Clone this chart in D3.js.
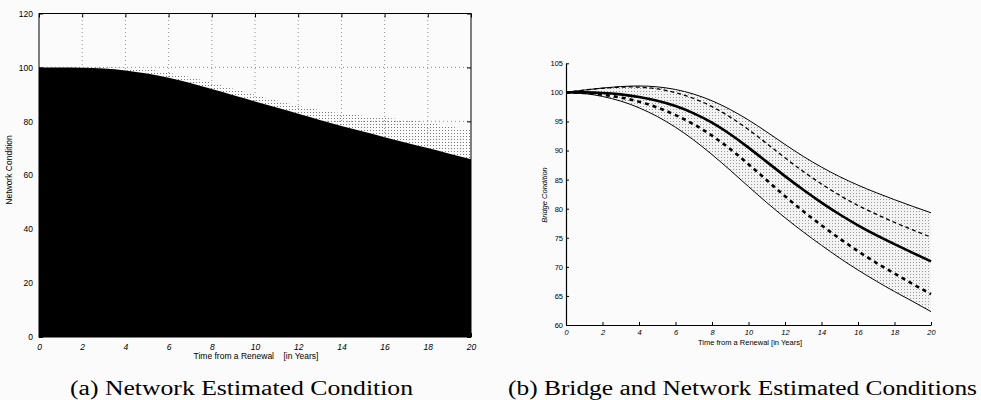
<!DOCTYPE html>
<html>
<head>
<meta charset="utf-8">
<script src="https://cdn.jsdelivr.net/npm/d3@7"></script>
<style>
  body { margin: 0; background: #fbfbfb; }
  svg { display: block; }
  .tick text { font-family: "Liberation Sans", Arial, sans-serif; fill: #000; }
</style>
</head>
<body>
<svg id="chart" width="981" height="400"></svg>
<script>
// years since renewal
const years = [0, 1, 2, 3, 4, 5, 6, 7, 8, 9, 10, 11, 12, 13, 14, 15, 16, 17, 18, 19, 20];

// (a) network condition: black area top and dotted band top
const networkCond  = [100, 100, 99.9, 99.6, 98.9, 97.7, 96.2, 94.2, 92.0, 89.7, 87.4, 85.1, 82.8, 80.5, 78.3, 76.2, 74.1, 72.1, 70.1, 68.0, 65.9];
const networkUpper = [100, 100, 100, 100, 99.9, 99.3, 98.1, 96.4, 94.3, 92.1, 89.9, 87.7, 85.8, 84.2, 83.0, 82.1, 81.3, 80.5, 79.5, 78.2, 76.6];

// (b) bridge condition curves
const bridgeUpper     = [100, 100.4, 100.75, 101.0, 101.1, 100.95, 100.5, 99.7, 98.55, 97.05, 95.25, 93.2, 91.05, 89.0, 87.15, 85.5, 84.05, 82.75, 81.55, 80.4, 79.3];
const bridgeUpperDash = [100, 100.4, 100.7, 100.9, 100.9, 100.6, 99.95, 98.95, 97.55, 95.75, 93.6, 91.2, 88.75, 86.4, 84.25, 82.3, 80.55, 79.05, 77.65, 76.35, 75.1];
const bridgeMean      = [100, 100, 99.9, 99.65, 99.2, 98.55, 97.65, 96.4, 94.8, 92.8, 90.5, 88.05, 85.6, 83.25, 81.05, 79.0, 77.15, 75.45, 73.9, 72.4, 70.95];
const bridgeLowerDash = [100, 99.9, 99.6, 99.1, 98.4, 97.4, 96.1, 94.5, 92.55, 90.25, 87.65, 84.9, 82.15, 79.55, 77.15, 74.85, 72.7, 70.7, 68.85, 67.05, 65.3];
const bridgeLower     = [100, 99.8, 99.3, 98.5, 97.35, 95.85, 94.0, 91.8, 89.3, 86.6, 83.8, 81.05, 78.45, 76.0, 73.7, 71.5, 69.45, 67.55, 65.75, 64.05, 62.3];

// tick labels
const xTicks = [0, 2, 4, 6, 8, 10, 12, 14, 16, 18, 20];
const netTicks = [0, 20, 40, 60, 80, 100, 120];
const bridgeTicks = [60, 65, 70, 75, 80, 85, 90, 95, 100, 105];

const sans = '"Liberation Sans", Arial, sans-serif';
const serif = '"Liberation Serif", "DejaVu Serif", serif';

const svg = d3.select('#chart');
const defs = svg.append('defs');

// dot textures
const dotsA = defs.append('pattern').attr('id', 'dotsA')
  .attr('patternUnits', 'userSpaceOnUse').attr('width', 3).attr('height', 3);
dotsA.append('rect').attr('x', 1).attr('y', 1).attr('width', 1).attr('height', 1).attr('fill', '#7a7a7a');

const dotsB = defs.append('pattern').attr('id', 'dotsB')
  .attr('patternUnits', 'userSpaceOnUse').attr('width', 3).attr('height', 3);
dotsB.append('rect').attr('width', 3).attr('height', 3).attr('fill', '#f3f3f3');
dotsB.append('rect').attr('x', 1).attr('y', 1).attr('width', 1).attr('height', 1).attr('fill', '#9a9a9a');

// ---------- (a) ----------
const xa = d3.scaleLinear().domain([0, 20]).range([39, 471]);
const ya = d3.scaleLinear().domain([0, 120]).range([337, 13.5]);

const ga = svg.append('g');

// grid
ga.selectAll('line.vgrid')
  .data(xTicks.slice(1, -1))
  .enter().append('line')
  .attr('x1', d => xa(d)).attr('x2', d => xa(d))
  .attr('y1', ya(0)).attr('y2', ya(120))
  .attr('stroke', '#777').attr('stroke-width', 0.8).attr('stroke-dasharray', '1,3');
ga.selectAll('line.hgrid')
  .data(netTicks.slice(1, -1))
  .enter().append('line')
  .attr('x1', xa(0)).attr('x2', xa(20))
  .attr('y1', d => ya(d)).attr('y2', d => ya(d))
  .attr('stroke', '#777').attr('stroke-width', 0.8).attr('stroke-dasharray', '1,3');

const bandA = d3.area()
  .x((d, i) => xa(years[i]))
  .y0((d, i) => ya(networkCond[i]))
  .y1(d => ya(d))
  .curve(d3.curveMonotoneX);
ga.append('path').datum(networkUpper).attr('d', bandA).attr('fill', 'url(#dotsA)');

const blackA = d3.area()
  .x((d, i) => xa(years[i]))
  .y0(ya(0))
  .y1(d => ya(d))
  .curve(d3.curveMonotoneX);
ga.append('path').datum(networkCond).attr('d', blackA).attr('fill', '#000');

ga.append('rect')
  .attr('x', xa(0)).attr('y', ya(120))
  .attr('width', xa(20) - xa(0)).attr('height', ya(0) - ya(120))
  .attr('fill', 'none').attr('stroke', '#000').attr('stroke-width', 1);

const axA = [
  ga.append('g').attr('transform', `translate(0,${ya(0)})`)
    .call(d3.axisBottom(xa).tickValues(xTicks).tickSize(-4).tickSizeOuter(0).tickPadding(7)),
  ga.append('g').attr('transform', `translate(0,${ya(120)})`)
    .call(d3.axisTop(xa).tickValues(xTicks).tickSize(-4).tickSizeOuter(0).tickFormat('')),
  ga.append('g').attr('transform', `translate(${xa(0)},0)`)
    .call(d3.axisLeft(ya).tickValues(netTicks).tickSize(-4).tickSizeOuter(0).tickPadding(6)),
  ga.append('g').attr('transform', `translate(${xa(20)},0)`)
    .call(d3.axisRight(ya).tickValues(netTicks).tickSize(-4).tickSizeOuter(0).tickFormat(''))
];
axA.forEach(a => {
  a.select('.domain').remove();
  a.selectAll('.tick line').attr('stroke', '#000');
  a.selectAll('.tick text').style('font-size', '8.5px');
});
axA[0].selectAll('.tick text').attr('font-style', 'italic');

ga.append('text')
  .attr('x', 256).attr('y', 359)
  .attr('text-anchor', 'middle')
  .attr('fill', '#000')
  .style('font-family', sans).style('font-size', '8.5px')
  .style('white-space', 'pre')
  .text('Time from a Renewal    [in Years]');

ga.append('text')
  .attr('transform', 'translate(12,170) rotate(-90)')
  .attr('text-anchor', 'middle')
  .attr('fill', '#000')
  .style('font-family', sans).style('font-size', '8.5px')
  .text('Network Condition');

ga.append('text')
  .attr('x', 70).attr('y', 395)
  .attr('textLength', 343).attr('lengthAdjust', 'spacingAndGlyphs')
  .attr('fill', '#000')
  .style('font-family', serif).style('font-size', '20px')
  .text('(a) Network Estimated Condition');

// ---------- (b) ----------
const xb = d3.scaleLinear().domain([0, 20]).range([566, 931]);
const yb = d3.scaleLinear().domain([60, 105]).range([325, 63.3]);

const gb = svg.append('g');

const bandB = d3.area()
  .x((d, i) => xb(years[i]))
  .y0((d, i) => yb(bridgeLower[i]))
  .y1(d => yb(d))
  .curve(d3.curveNatural);
gb.append('path').datum(bridgeUpper).attr('d', bandB).attr('fill', 'url(#dotsB)');

const lineB = d3.line()
  .x((d, i) => xb(years[i]))
  .y(d => yb(d))
  .curve(d3.curveNatural);

const curves = [
  { data: bridgeUpper,     width: 1,   dash: null },
  { data: bridgeLower,     width: 1,   dash: null },
  { data: bridgeUpperDash, width: 1.3, dash: '4,3' },
  { data: bridgeLowerDash, width: 2.6, dash: '4,4' },
  { data: bridgeMean,      width: 2.6, dash: null }
];
gb.selectAll('path.curve')
  .data(curves)
  .enter().append('path')
  .attr('class', 'curve')
  .attr('d', d => lineB(d.data))
  .attr('fill', 'none')
  .attr('stroke', '#000')
  .attr('stroke-width', d => d.width)
  .attr('stroke-dasharray', d => d.dash);

const axB = [
  gb.append('g').attr('transform', `translate(0,${yb(60)})`)
    .call(d3.axisBottom(xb).tickValues(xTicks).tickSize(-3).tickSizeOuter(0).tickPadding(5)),
  gb.append('g').attr('transform', `translate(${xb(0)},0)`)
    .call(d3.axisLeft(yb).tickValues(bridgeTicks).tickSize(-3).tickSizeOuter(0).tickPadding(3))
];
axB.forEach(a => {
  a.select('.domain').attr('stroke', '#000').attr('stroke-width', 1.2);
  a.selectAll('.tick line').attr('stroke', '#000');
  a.selectAll('.tick text').style('font-size', '7.5px');
});
axB[0].selectAll('.tick text').attr('font-style', 'italic');

gb.append('text')
  .attr('x', 750).attr('y', 345)
  .attr('text-anchor', 'middle')
  .attr('fill', '#000')
  .style('font-family', sans).style('font-size', '7.5px')
  .text('Time from a Renewal [in Years]');

gb.append('text')
  .attr('transform', 'translate(547,195) rotate(-90)')
  .attr('text-anchor', 'middle')
  .attr('fill', '#000')
  .style('font-family', sans).style('font-size', '7.5px')
  .attr('font-style', 'italic')
  .text('Bridge Condition');

gb.append('text')
  .attr('x', 508).attr('y', 395)
  .attr('textLength', 469).attr('lengthAdjust', 'spacingAndGlyphs')
  .attr('fill', '#000')
  .style('font-family', serif).style('font-size', '20px')
  .text('(b) Bridge and Network Estimated Conditions');
</script>
</body>
</html>
